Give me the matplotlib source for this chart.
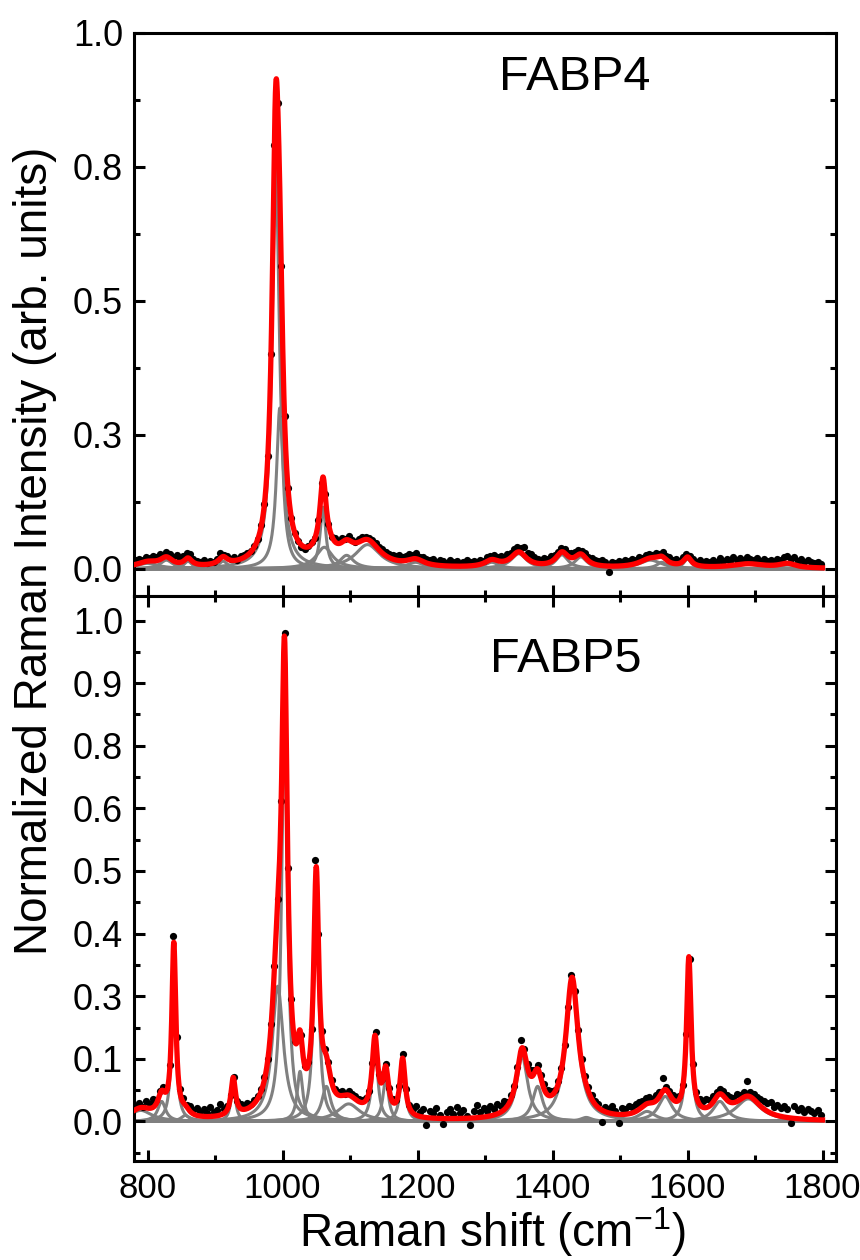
import matplotlib
matplotlib.use('Agg')
import matplotlib.pyplot as plt
import numpy as np

plt.rcParams['font.family'] = ['Liberation Sans', 'DejaVu Sans']
plt.rcParams['mathtext.fontset'] = 'custom'
plt.rcParams['mathtext.rm'] = 'Liberation Sans'

# fitted Lorentzian bands: centre (cm-1), height, fwhm
fabp4_centre = [800, 828, 860, 912, 990, 996, 1060, 1062, 1095, 1126, 1197, 1310, 1350, 1414, 1442, 1545, 1562, 1600, 1690, 1748]
fabp4_height = [0.010, 0.016, 0.014, 0.014, 0.75, 0.30, 0.115, 0.04, 0.025, 0.045, 0.012, 0.012, 0.028, 0.026, 0.022, 0.016, 0.012, 0.018, 0.008, 0.008]
fabp4_width = [40, 22, 14, 16, 13, 12, 10, 30, 25, 45, 30, 25, 28, 22, 22, 40, 18, 14, 60, 30]

fabp5_centre = [790, 821, 839, 856, 927, 993, 1003, 1026, 1050, 1065, 1098, 1137, 1153, 1178, 1355, 1378, 1429, 1450, 1540, 1567, 1602, 1648, 1690]
fabp5_height = [0.022, 0.040, 0.345, 0.012, 0.075, 0.27, 0.82, 0.10, 0.465, 0.07, 0.035, 0.15, 0.085, 0.115, 0.13, 0.07, 0.28, 0.008, 0.02, 0.05, 0.315, 0.04, 0.045]
fabp5_width = [40, 14, 7, 15, 8, 20, 10, 10, 9, 16, 40, 10, 10, 9, 20, 18, 22, 20, 30, 25, 8, 25, 45]

# measured spectra (black dots), one value every 5 cm-1 from 783 cm-1
shift = np.arange(783, 1799, 5)
fabp4_data = [
    0.016, 0.019, 0.017, 0.022, 0.020, 0.024, 0.021, 0.028, 0.026, 0.031,
    0.027, 0.022, 0.025, 0.019, 0.024, 0.030, 0.027, 0.018, 0.015, 0.012,
    0.016, 0.011, 0.014, 0.013, 0.019, 0.029, 0.026, 0.024, 0.018, 0.021,
    0.017, 0.023, 0.026, 0.029, 0.033, 0.043, 0.056, 0.081, 0.120, 0.210,
    0.400, 0.790, 0.870, 0.565, 0.285, 0.150, 0.094, 0.066, 0.051, 0.040,
    0.037, 0.043, 0.049, 0.058, 0.090, 0.160, 0.140, 0.083, 0.060, 0.057,
    0.052, 0.058, 0.055, 0.061, 0.054, 0.050, 0.056, 0.059, 0.060, 0.058,
    0.054, 0.048, 0.040, 0.036, 0.031, 0.027, 0.025, 0.023, 0.026, 0.021,
    0.024, 0.028, 0.025, 0.030, 0.022, 0.021, 0.019, 0.016, 0.019, 0.013,
    0.017, 0.014, 0.011, 0.016, 0.012, 0.015, 0.009, 0.013, 0.016, 0.012,
    0.015, 0.012, 0.017, 0.015, 0.021, 0.023, 0.026, 0.022, 0.024, 0.020,
    0.027, 0.030, 0.036, 0.041, 0.038, 0.040, 0.030, 0.028, 0.021, 0.019,
    0.016, 0.020, 0.018, 0.024, 0.025, 0.032, 0.038, 0.036, 0.030, 0.029,
    0.031, 0.035, 0.033, 0.030, 0.022, 0.020, 0.016, 0.014, 0.017, 0.012,
    -0.006, 0.013, 0.011, 0.015, 0.012, 0.016, 0.014, 0.019, 0.017, 0.021,
    0.020, 0.026, 0.028, 0.025, 0.030, 0.027, 0.031, 0.024, 0.021, 0.016,
    0.018, 0.015, 0.021, 0.027, 0.024, 0.018, 0.013, 0.016, 0.011, 0.015,
    0.012, 0.017, 0.013, 0.020, 0.014, 0.018, 0.015, 0.021, 0.016, 0.020,
    0.017, 0.022, 0.018, 0.016, 0.020, 0.015, 0.018, 0.014, 0.017, 0.013,
    0.019, 0.016, 0.022, 0.024, 0.019, 0.021, 0.015, 0.018, 0.012, 0.016,
    0.013, 0.010, 0.012, 0.008]
fabp5_data = [
    0.031, 0.036, 0.029, 0.041, 0.034, 0.045, 0.043, 0.060, 0.068, 0.066,
    0.112, 0.370, 0.168, 0.064, 0.046, 0.033, 0.031, 0.022, 0.027, 0.019,
    0.024, 0.017, 0.029, 0.018, 0.022, 0.034, 0.024, 0.031, 0.052, 0.088,
    0.041, 0.034, 0.030, 0.037, 0.034, 0.043, 0.050, 0.064, 0.088, 0.125,
    0.195, 0.310, 0.445, 0.640, 0.975, 0.505, 0.245, 0.160, 0.165, 0.172,
    0.110, 0.118, 0.185, 0.522, 0.375, 0.180, 0.145, 0.118, 0.082, 0.064,
    0.058, 0.060, 0.055, 0.061, 0.054, 0.050, 0.045, 0.042, 0.046, 0.060,
    0.116, 0.178, 0.095, 0.084, 0.115, 0.067, 0.044, 0.042, 0.070, 0.135,
    0.064, 0.033, 0.025, 0.030, 0.018, 0.024, -0.008, 0.021, 0.016, 0.027,
    0.013, -0.006, 0.019, 0.024, 0.014, 0.028, 0.017, 0.022, 0.011, -0.007,
    0.020, 0.032, 0.018, 0.026, 0.021, 0.030, 0.024, 0.035, 0.031, 0.040,
    0.038, 0.052, 0.071, 0.108, 0.162, 0.145, 0.114, 0.102, 0.103, 0.112,
    0.092, 0.074, 0.062, 0.060, 0.063, 0.080, 0.106, 0.153, 0.228, 0.292,
    0.260, 0.182, 0.124, 0.090, 0.068, 0.052, 0.040, 0.035, -0.002, 0.028,
    0.024, 0.030, 0.021, -0.003, 0.027, 0.024, 0.031, 0.029, 0.035, 0.038,
    0.041, 0.046, 0.049, 0.045, 0.052, 0.058, 0.087, 0.068, 0.061, 0.052,
    0.049, 0.051, 0.072, 0.175, 0.325, 0.115, 0.058, 0.045, 0.040, 0.044,
    0.042, 0.050, 0.058, 0.064, 0.060, 0.052, 0.049, 0.046, 0.055, 0.053,
    0.059, 0.080, 0.058, 0.055, 0.049, 0.044, 0.040, 0.036, 0.038, 0.029,
    0.033, 0.026, 0.030, 0.024, -0.003, 0.031, 0.022, 0.027, 0.019, 0.025,
    0.021, 0.017, 0.023, 0.012]


def lorentz(x, c, h, w):
    return h / (1 + ((x - c) / (w / 2)) ** 2)


xs = np.linspace(780, 1800, 3000)
fig = plt.figure(figsize=(8.6, 12.6), dpi=100)
ax1 = fig.add_axes([134 / 860, 1 - 595.5 / 1260, 702 / 860, 562.5 / 1260])
ax2 = fig.add_axes([134 / 860, 1 - 1160.5 / 1260, 702 / 860, 565 / 1260], sharex=ax1)

panels = [(ax1, fabp4_centre, fabp4_height, fabp4_width, fabp4_data, 'FABP4', 0.52, 0.92),
          (ax2, fabp5_centre, fabp5_height, fabp5_width, fabp5_data, 'FABP5', 0.507, 0.886)]
for ax, cen, hei, wid, data, name, tx, ty in panels:
    total = np.zeros_like(xs)
    for c, h, w in zip(cen, hei, wid):
        comp = lorentz(xs, c, h, w)
        total += comp
        ax.plot(xs, comp, color='#808080', lw=2.2, zorder=1)
    ax.plot(shift, data, 'o', color='black', ms=5.2, mew=0, zorder=2)
    ax.plot(xs, total, color='#ff0000', lw=3.8, zorder=3)
    for s in ax.spines.values():
        s.set_linewidth(2.2)
    ax.tick_params(which='both', direction='in', width=2.2, right=True)
    ax.tick_params(which='major', length=8)
    ax.tick_params(which='minor', length=4.5)
    ax.tick_params(axis='y', labelsize=26, pad=8)
    ax.text(tx, ty, name, transform=ax.transAxes, fontsize=35, va='center')

ax1.set_xlim(780, 1820)
ax1.set_ylim(-0.05, 1.0)
ax1.set_yticks([0, 0.25, 0.5, 0.75, 1.0])
ax1.set_yticklabels(['0.0', '0.3', '0.5', '0.8', '1.0'])
ax1.set_yticks(np.arange(0.125, 1.0, 0.25), minor=True)
ax1.tick_params(axis='x', which='both', top=False, labelbottom=False)

ax2.set_ylim(-0.078, 1.05)
ax2.set_yticks(np.arange(0, 1.01, 0.125))
ax2.set_yticklabels(['0.0', '0.1', '0.3', '0.4', '0.5', '0.6', '0.8', '0.9', '1.0'])
ax2.set_yticks(np.arange(-0.0625, 1.05, 0.125), minor=True)
ax2.set_xticks(np.arange(800, 1801, 200))
ax2.set_xticks(np.arange(900, 1801, 200), minor=True)
ax2.tick_params(axis='x', which='both', top=True, pad=8, labelsize=25)

fig.text(35 / 860, 1 - 551 / 1260, 'Normalized Raman Intensity (arb. units)', rotation=90,
         fontsize=33, ha='center', va='center')
fig.text(492 / 860, 1 - 1232 / 1260, 'Raman shift (cm$^{-1}$)', fontsize=33, ha='center', va='center')

fig.savefig('out.png', dpi=100)
